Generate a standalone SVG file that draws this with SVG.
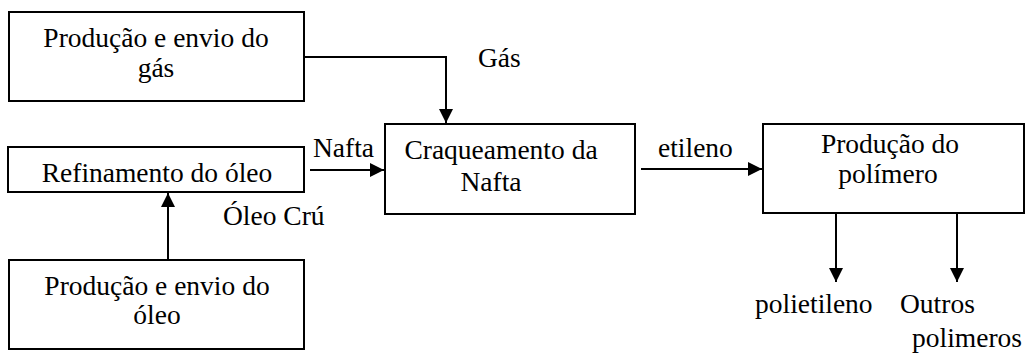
<svg xmlns="http://www.w3.org/2000/svg" width="1025" height="353" viewBox="0 0 1025 353">
<style>
text{font-family:"Liberation Serif","Times New Roman",serif;font-size:27.5px;fill:#000}
.c{text-anchor:middle}
.box{fill:#fff;stroke:#000;stroke-width:2}
.ln{fill:none;stroke:#000;stroke-width:2}
</style>
<defs>
<marker id="ah" markerUnits="userSpaceOnUse" markerWidth="14" markerHeight="14" refX="14" refY="7" orient="auto">
<path d="M0,0 L14,7 L0,14 z" fill="#000"/>
</marker>
</defs>
<rect width="1025" height="353" fill="#fff"/>
<g id="connectors">
<polyline class="ln" points="304,57 446,57 446,123" marker-end="url(#ah)"/>
<line class="ln" x1="310" y1="170" x2="384" y2="170" marker-end="url(#ah)"/>
<line class="ln" x1="168" y1="260" x2="168" y2="193" marker-end="url(#ah)"/>
<line class="ln" x1="641" y1="169" x2="762" y2="169" marker-end="url(#ah)"/>
<line class="ln" x1="836" y1="213" x2="836" y2="282" marker-end="url(#ah)"/>
<line class="ln" x1="957" y1="213" x2="957" y2="282" marker-end="url(#ah)"/>
<text x="478" y="67">Gás</text>
<text x="313" y="157">Nafta</text>
<text x="223" y="225">Óleo Crú</text>
<text x="658" y="157">etileno</text>
<text x="755" y="313">polietileno</text>
<text x="900" y="313">Outros</text>
<text x="912" y="347">polimeros</text>
</g>
<g id="gas">
<rect class="box" x="9" y="12" width="295" height="89"/>
<text class="c" x="156" y="47">Produção e envio do</text>
<text class="c" x="156" y="77">gás</text>
</g>
<g id="refino">
<rect class="box" x="8" y="147" width="296" height="45"/>
<text class="c" x="157" y="182">Refinamento do óleo</text>
</g>
<g id="oleo">
<rect class="box" x="9" y="260" width="295" height="89"/>
<text class="c" x="157" y="295">Produção e envio do</text>
<text class="c" x="157" y="324">óleo</text>
</g>
<g id="craqueamento">
<rect class="box" x="385" y="124" width="250" height="90"/>
<text class="c" x="501" y="159">Craqueamento da</text>
<text class="c" x="491" y="191">Nafta</text>
</g>
<g id="polimero">
<rect class="box" x="763" y="124" width="261" height="89"/>
<text class="c" x="890" y="153">Produção do</text>
<text class="c" x="888" y="183">polímero</text>
</g>
</svg>
